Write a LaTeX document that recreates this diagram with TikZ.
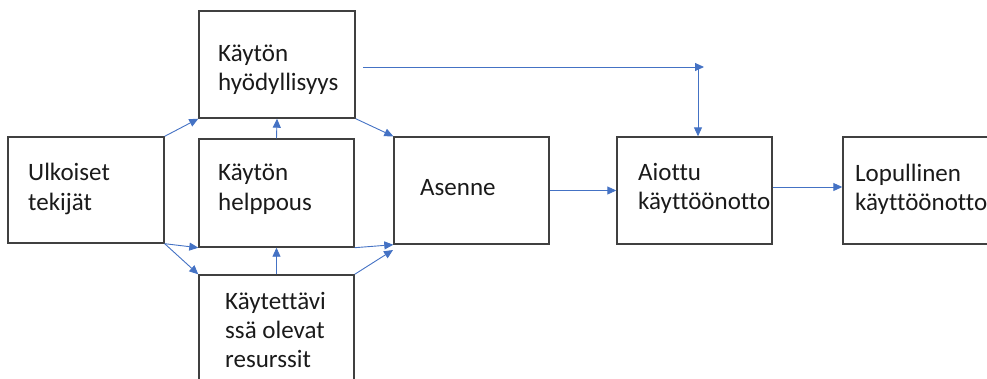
\documentclass[tikz,border=0pt]{standalone}
\usepackage{fontspec}
\setmainfont[Ligatures=NoCommon]{Carlito}
\usetikzlibrary{arrows.meta}
\definecolor{boxline}{HTML}{404040}
\definecolor{arrblue}{HTML}{4472C4}
\definecolor{txt}{HTML}{1A1A1A}
\begin{document}
\begin{tikzpicture}[x=1pt,y=-1pt,
  box/.style={draw=boxline,line width=1.4pt,rectangle,inner sep=0pt,minimum width=155pt,minimum height=107pt},
  lbl/.style={anchor=base west,inner sep=0pt,text=txt,font=\fontsize{25}{30}\selectfont},
  arr/.style={draw=arrblue,line width=0.9pt,-{Triangle[length=9pt,width=8pt]}}]
\useasboundingbox (0,0) rectangle (987,378);
\clip (0,0) rectangle (987,378);
% boxes
\node[box,minimum width=156pt,minimum height=106pt] (ulk) at (86,190) {};
\node[box,minimum width=156pt] (hyod) at (277,64.5) {};
\node[box,minimum height=108pt] (help) at (276.5,193) {};
\node[box] (res) at (276.5,328.5) {};
\node[box] (ase) at (471.5,190.5) {};
\node[box] (aio) at (694.5,190.5) {};
\node[box] (lop) at (920.5,190.5) {};
% labels
\node[lbl] (t-ulk1) at (28,180) {Ulkoiset};
\node[lbl] (t-ulk2) at (28,210) {tekijät};
\node[lbl] (t-hy1) at (218,61) {Käytön};
\node[lbl] (t-hy2) at (218,90) {hyödyllisyys};
\node[lbl] (t-he1) at (218,180) {Käytön};
\node[lbl] (t-he2) at (218,210) {helppous};
\node[lbl] (t-re1) at (225,309) {Käytettävi};
\node[lbl] (t-re2) at (225,338) {ssä olevat};
\node[lbl] (t-re3) at (225,367) {resurssit};
\node[lbl] (t-as) at (420,195) {Asenne};
\node[lbl] (t-ai1) at (638,180) {Aiottu};
\node[lbl] (t-ai2) at (638,209) {käyttöönotto};
\node[lbl] (t-lo1) at (855,181) {Lopullinen};
\node[lbl] (t-lo2) at (855,210) {käyttöönotto};
% helper coordinates
\coordinate (top1) at (363,67);
\coordinate (top2) at (704,67);
\coordinate (top3) at (698,67);
\coordinate (aseb) at (393,250);
% connectors
\draw[arr] (ulk.north east) -- (hyod.south west);
\draw[arr] (help.north) -- (hyod.south);
\draw[arr] (hyod.south east) -- (ase.north west);
\draw[arr] (top1) -- (top2);
\draw[arr] (top3) -- (top3 |- aio.north);
\draw[arr] (ulk.south east) -- (help.south west);
\draw[arr] (ulk.south east) -- (res.north west);
\draw[arr] (res.north) -- (help.south);
\draw[arr] (help.south east) -- (ase.south west);
\draw[arr] (res.north east) -- (aseb);
\draw[arr] (ase.east) -- (aio.west);
\draw[arr] ([yshift=3.5pt]aio.east) -- ([yshift=3.5pt]lop.west);
\end{tikzpicture}
\end{document}
